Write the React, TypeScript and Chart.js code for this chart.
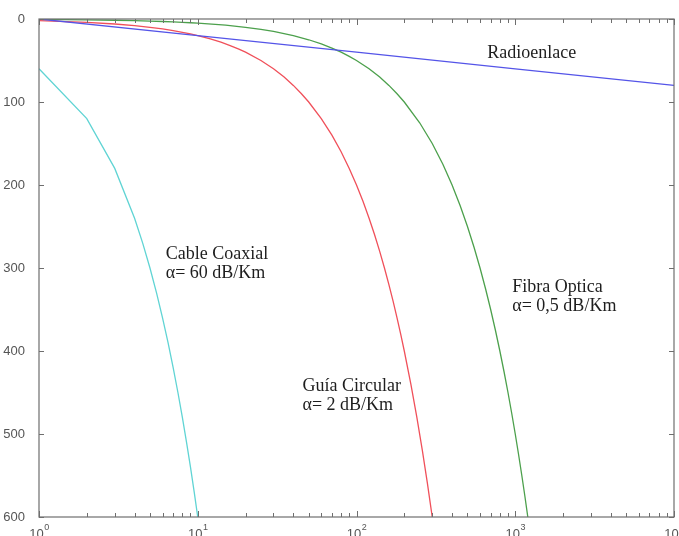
import React, { useEffect, useRef } from "react";
import { Chart, registerables } from "chart.js";

Chart.register(...registerables);

// Distance (km) and attenuation (dB)
const DIST_COAX = [1, 2, 3, 4, 4.5, 5, 5.5, 6, 6.5, 7, 7.5, 8, 8.5, 9, 9.5, 10];
const ATT_COAX = [60, 120, 180, 240, 270, 300, 330, 360, 390, 420, 450, 480, 510, 540, 570, 600];

const DIST_GUIA = [1, 2, 3, 4, 5, 6, 7, 8, 9, 10, 12, 14, 16, 18, 20, 25, 30, 35, 40, 45, 50, 60, 70, 80, 90, 100, 110, 120, 130, 140, 150, 160, 170, 180, 190, 200, 220, 240, 260, 280, 300];
const ATT_GUIA = [2, 4, 6, 8, 10, 12, 14, 16, 18, 20, 24, 28, 32, 36, 40, 50, 60, 70, 80, 90, 100, 120, 140, 160, 180, 200, 220, 240, 260, 280, 300, 320, 340, 360, 380, 400, 440, 480, 520, 560, 600];

const DIST_FIBRA = [1, 2, 3, 4, 5, 6, 7, 8, 9, 10, 15, 20, 25, 30, 40, 50, 60, 70, 80, 90, 100, 120, 140, 160, 180, 200, 250, 300, 350, 400, 450, 500, 550, 600, 650, 700, 750, 800, 850, 900, 950, 1000, 1050, 1100, 1150, 1200];
const ATT_FIBRA = [0.5, 1, 1.5, 2, 2.5, 3, 3.5, 4, 4.5, 5, 7.5, 10, 12.5, 15, 20, 25, 30, 35, 40, 45, 50, 60, 70, 80, 90, 100, 125, 150, 175, 200, 225, 250, 275, 300, 325, 350, 375, 400, 425, 450, 475, 500, 525, 550, 575, 600];

const DIST_RADIO = [1, 10, 100, 1000, 10000];
const ATT_RADIO = [0, 20, 40, 60, 80];

const X_DECADES = [1, 10, 100, 1000, 10000];
const X_EXPONENTS = ["0", "1", "2", "3", "4"];
const X_MINOR_MULT = [2, 3, 4, 5, 6, 7, 8, 9];
const Y_MIN = 0;
const Y_MAX = 600;
const Y_STEP = 100;

const LABELS = [
  { x: 6.29, y: 289, lines: ["Cable Coaxial", "α= 60 dB/Km"] },
  { x: 45.7, y: 448, lines: ["Guía Circular", "α= 2 dB/Km"] },
  { x: 958, y: 329, lines: ["Fibra Optica", "α= 0,5 dB/Km"] },
  { x: 667, y: 47, lines: ["Radioenlace"] },
];

const COLORS = {
  coax: "rgb(96, 212, 212)",
  guia: "rgb(240, 80, 90)",
  fibra: "rgb(76, 160, 76)",
  radio: "rgb(84, 84, 232)",
  axis: "#6e6e6e",
  tickText: "#555555",
};

const toPoints = (xs: number[], ys: number[]) => xs.map((x, i) => ({ x, y: ys[i] }));

const isDecade = (v: number) => Math.abs(Math.log10(v) - Math.round(Math.log10(v))) < 1e-9;

const framePlugin = {
  id: "matlabFrame",
  afterDatasetsDraw(chart: any) {
    const { ctx, chartArea } = chart;
    const xs = chart.scales.x;
    const ys = chart.scales.y;
    const { left, right, top, bottom } = chartArea;
    ctx.save();
    ctx.strokeStyle = COLORS.axis;
    ctx.lineWidth = 1.2;
    ctx.strokeRect(left, top, right - left, bottom - top);
    ctx.lineWidth = 1;
    xs.ticks.forEach((t: any) => {
      const px = Math.round(xs.getPixelForValue(t.value)) + 0.5;
      const len = isDecade(t.value) ? 6 : 4;
      ctx.beginPath();
      ctx.moveTo(px, bottom);
      ctx.lineTo(px, bottom - len);
      ctx.moveTo(px, top);
      ctx.lineTo(px, top + len);
      ctx.stroke();
    });
    ys.ticks.forEach((t: any) => {
      const py = Math.round(ys.getPixelForValue(t.value)) + 0.5;
      ctx.beginPath();
      ctx.moveTo(left, py);
      ctx.lineTo(left + 5, py);
      ctx.moveTo(right, py);
      ctx.lineTo(right - 5, py);
      ctx.stroke();
    });
    ctx.fillStyle = COLORS.tickText;
    ctx.textBaseline = "alphabetic";
    X_DECADES.forEach((v, i) => {
      const px = xs.getPixelForValue(v);
      ctx.font = '13px "Liberation Sans", Arial, sans-serif';
      const wBase = ctx.measureText("10").width;
      ctx.font = '9px "Liberation Sans", Arial, sans-serif';
      const wExp = ctx.measureText(X_EXPONENTS[i]).width;
      const start = px - (wBase + wExp) / 2;
      ctx.font = '13px "Liberation Sans", Arial, sans-serif';
      ctx.textAlign = "left";
      ctx.fillText("10", start, 538);
      ctx.font = '9px "Liberation Sans", Arial, sans-serif';
      ctx.fillText(X_EXPONENTS[i], start + wBase + 0.5, 530);
    });
    ctx.fillStyle = "#1e1e1e";
    ctx.font = '18px "Liberation Serif", "Times New Roman", serif';
    ctx.textAlign = "left";
    LABELS.forEach((lab) => {
      const px = xs.getPixelForValue(lab.x);
      const py = ys.getPixelForValue(lab.y);
      lab.lines.forEach((line, k) => {
        ctx.fillText(line, px, py + k * 19);
      });
    });
    ctx.restore();
  },
};

export default function App() {
  const canvasRef = useRef<HTMLCanvasElement | null>(null);

  useEffect(() => {
    if (!canvasRef.current) return;
    const line = (data: any[], color: string) => ({
      data,
      borderColor: color,
      backgroundColor: color,
      borderWidth: 1.3,
      pointRadius: 0,
      tension: 0,
      fill: false,
    });
    const chart = new Chart(canvasRef.current, {
      type: "line",
      data: {
        datasets: [
          { label: "Radioenlace", ...line(toPoints(DIST_RADIO, ATT_RADIO), COLORS.radio) },
          { label: "Fibra Optica", ...line(toPoints(DIST_FIBRA, ATT_FIBRA), COLORS.fibra) },
          { label: "Guía Circular", ...line(toPoints(DIST_GUIA, ATT_GUIA), COLORS.guia) },
          { label: "Cable Coaxial", ...line(toPoints(DIST_COAX, ATT_COAX), COLORS.coax) },
        ],
      },
      options: {
        animation: false,
        responsive: false,
        maintainAspectRatio: false,
        layout: { padding: { top: 19, right: 5, left: 0, bottom: 0 } },
        plugins: { legend: { display: false }, tooltip: { enabled: false } },
        scales: {
          x: {
            type: "logarithmic",
            position: "bottom",
            min: 1,
            max: 10000,
            grid: { display: false },
            border: { display: false },
            ticks: { display: false, autoSkip: false },
            afterBuildTicks: (s: any) => {
              const t: any[] = [];
              X_DECADES.forEach((d, i) => {
                t.push({ value: d });
                if (i < X_DECADES.length - 1) X_MINOR_MULT.forEach((m) => t.push({ value: d * m }));
              });
              s.ticks = t;
            },
            afterFit: (s: any) => {
              s.height = 19;
            },
          },
          y: {
            type: "linear",
            reverse: true,
            min: Y_MIN,
            max: Y_MAX,
            grid: { display: false },
            border: { display: false },
            ticks: {
              stepSize: Y_STEP,
              padding: 6,
              color: COLORS.tickText,
              font: { family: '"Liberation Sans", Arial, sans-serif', size: 13 },
            },
            afterFit: (s: any) => {
              s.width = 39;
            },
          },
        },
      },
      plugins: [framePlugin],
    });
    return () => chart.destroy();
  }, []);

  return (
    <div style={{ position: "fixed", left: 0, top: 0, width: 679, height: 536, background: "#fff" }}>
      <canvas ref={canvasRef} width={679} height={536} style={{ display: "block" }} />
    </div>
  );
}
